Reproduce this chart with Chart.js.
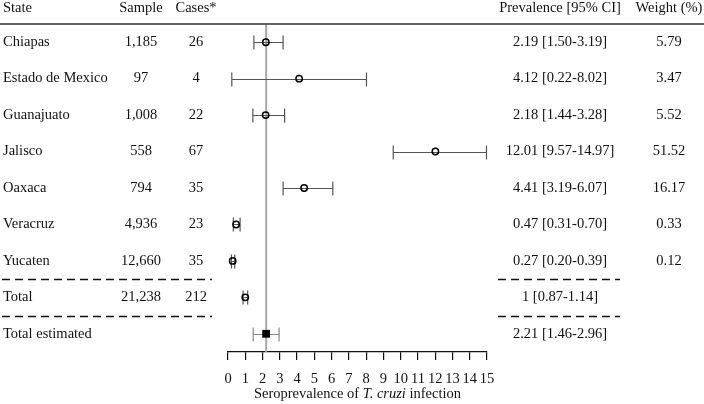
<!DOCTYPE html>
<html>
<head>
<meta charset="utf-8">
<script src="https://cdn.jsdelivr.net/npm/chart.js@4"></script>
<style>
	body { margin: 0; background: #fff; }
	#wrap { width: 704px; height: 404px; position: relative; }
</style>
</head>
<body>
<div id="wrap"><canvas id="forest-canvas"></canvas></div>
<script>
const states = ["Chiapas", "Estado de Mexico", "Guanajuato", "Jalisco", "Oaxaca", "Veracruz", "Yucaten", "Total", "Total estimated"];
const samples = [1185, 97, 1008, 558, 794, 4936, 12660, 21238, null];
const cases = [26, 4, 22, 67, 35, 23, 35, 212, null];
const prevalence = [2.19, 4.12, 2.18, 12.01, 4.41, 0.47, 0.27, 1, 2.21];
const lower = [1.50, 0.22, 1.44, 9.57, 3.19, 0.31, 0.20, 0.87, 1.46];
const upper = [3.19, 8.02, 3.28, 14.97, 6.07, 0.70, 0.39, 1.14, 2.96];
const weights = [5.79, 3.47, 5.52, 51.52, 16.17, 0.33, 0.12, null, null];
const xTicks = [0, 1, 2, 3, 4, 5, 6, 7, 8, 9, 10, 11, 12, 13, 14, 15];

const FONT = "14.5px 'Liberation Serif'";
const fmt = v => Number.isInteger(v) ? String(v) : v.toFixed(2);

const studyRows = states.map((s, i) => i).filter(i => i < states.length - 1);
const pooled = states.length - 1;

const forestPlugin = {
	id: "forest",
	beforeDatasetsDraw(chart) {
		const ctx = chart.ctx;
		const x = chart.scales.x;
		const y = chart.scales.y;
		const area = chart.chartArea;
		ctx.save();

		// pooled estimate line
		const px = x.getPixelForValue(prevalence[pooled]);
		ctx.strokeStyle = "#a8a8a8";
		ctx.lineWidth = 2;
		ctx.beginPath();
		ctx.moveTo(px, area.top);
		ctx.lineTo(px, area.bottom);
		ctx.stroke();

		// confidence intervals
		prevalence.forEach((p, i) => {
			const yy = Math.round(y.getPixelForValue(i)) + 0.5;
			const x0 = x.getPixelForValue(lower[i]);
			const x1 = x.getPixelForValue(upper[i]);
			ctx.strokeStyle = i === pooled ? "#8a8a8a" : "#555";
			ctx.lineWidth = 1.2;
			ctx.beginPath();
			ctx.moveTo(x0, yy);
			ctx.lineTo(x1, yy);
			ctx.moveTo(x0, yy - 7);
			ctx.lineTo(x0, yy + 7);
			ctx.moveTo(x1, yy - 7);
			ctx.lineTo(x1, yy + 7);
			ctx.stroke();
		});
		ctx.restore();
	},
	afterDraw(chart) {
		const ctx = chart.ctx;
		const y = chart.scales.y;
		const area = chart.chartArea;
		ctx.save();
		ctx.fillStyle = "#111";
		ctx.font = FONT;
		ctx.textBaseline = "middle";

		// header
		const hy = 8;
		ctx.textAlign = "left";
		ctx.fillText("State", 3, hy);
		ctx.textAlign = "center";
		ctx.fillText("Sample", 141, hy);
		ctx.fillText("Cases*", 196, hy);
		ctx.fillText("Prevalence [95% CI]", 560, hy);
		ctx.fillText("Weight (%)", 669, hy);

		ctx.strokeStyle = "#333";
		ctx.lineWidth = 1.5;
		ctx.beginPath();
		ctx.moveTo(0, area.top);
		ctx.lineTo(704, area.top);
		ctx.stroke();

		// table rows
		states.forEach((s, i) => {
			const yy = y.getPixelForValue(i);
			ctx.textAlign = "left";
			ctx.fillText(s, 3, yy);
			ctx.textAlign = "center";
			if (samples[i] !== null) ctx.fillText(samples[i].toLocaleString("en-US"), 141, yy);
			if (cases[i] !== null) ctx.fillText(String(cases[i]), 196, yy);
			ctx.fillText(fmt(prevalence[i]) + " [" + fmt(lower[i]) + "-" + fmt(upper[i]) + "]", 560, yy);
			if (weights[i] !== null) ctx.fillText(weights[i].toFixed(2), 669, yy);
		});

		// dashed separators
		ctx.strokeStyle = "#111";
		ctx.lineWidth = 1.5;
		ctx.setLineDash([8, 5]);
		[pooled - 1.5, pooled - 0.5].forEach(v => {
			const yy = Math.round(y.getPixelForValue(v)) + 0.5;
			ctx.beginPath();
			ctx.moveTo(2, yy);
			ctx.lineTo(212, yy);
			ctx.moveTo(498, yy);
			ctx.lineTo(620, yy);
			ctx.stroke();
		});
		ctx.setLineDash([]);

		// axis title with italic species name
		const parts = [["Seroprevalence of ", FONT], ["T. cruzi", "italic " + FONT], [" infection", FONT]];
		let total = 0;
		parts.forEach(p => { ctx.font = p[1]; total += ctx.measureText(p[0]).width; });
		let tx = (area.left + area.right) / 2 - total / 2;
		ctx.textAlign = "left";
		parts.forEach(p => {
			ctx.font = p[1];
			ctx.fillText(p[0], tx, 394);
			tx += ctx.measureText(p[0]).width;
		});
		ctx.restore();
	},
};

const forestCanvas = document.getElementById("forest-canvas").getContext("2d");

const forestChart = new Chart(forestCanvas, {
	type: "scatter",

	data: {
		datasets: [
			{
				data: studyRows.map(i => ({ x: prevalence[i], y: i })),
				pointStyle: "circle",
				pointRadius: 3.2,
				borderColor: "#000",
				borderWidth: 1.5,
				backgroundColor: "rgba(255,255,255,0)",
			},
			{
				data: [{ x: prevalence[pooled], y: pooled }],
				pointStyle: "rect",
				pointRadius: 5.5,
				borderColor: "#000",
				borderWidth: 0,
				backgroundColor: "#000",
			},
		],
	},

	options: {
		responsive: true,
		maintainAspectRatio: false,
		animation: false,
		events: [],
		layout: {
			padding: { left: 228, right: 217, top: 24, bottom: 0 },
		},
		plugins: {
			legend: { display: false },
			tooltip: { enabled: false },
		},
		scales: {
			x: {
				type: "linear",
				min: 0,
				max: 15,
				afterFit: s => { s.height = 52; },
				afterBuildTicks: s => { s.ticks = xTicks.map(v => ({ value: v })); },
				ticks: {
					color: "#111",
					font: { family: "Liberation Serif", size: 14.5 },
					padding: 10,
					maxRotation: 0,
					autoSkip: false,
				},
				grid: {
					drawOnChartArea: false,
					drawTicks: true,
					tickLength: 8,
					color: "#111",
					lineWidth: 1.2,
				},
				border: { display: true, color: "#111", width: 1.2 },
			},
			y: {
				type: "linear",
				min: -0.5,
				max: 8.5,
				reverse: true,
				display: false,
			},
		},
	},
	plugins: [forestPlugin],
});
</script>
</body>
</html>
